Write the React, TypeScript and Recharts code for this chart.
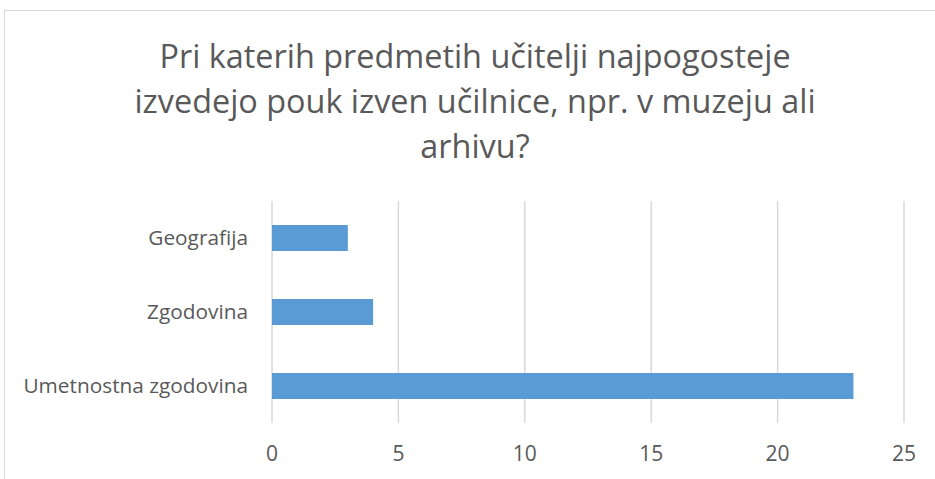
import React from "react"
import { BarChart, Bar, XAxis, YAxis, CartesianGrid } from "recharts"

const titleLines = [
  "Pri katerih predmetih učitelji najpogosteje",
  "izvedejo pouk izven učilnice, npr. v muzeju ali",
  "arhivu?",
]
const subjects = ["Geografija", "Zgodovina", "Umetnostna zgodovina"]
const counts = [3, 4, 23]
const xTicks = [0, 5, 10, 15, 20, 25]

const data = subjects.map((name, i) => ({ name, value: counts[i] }))

const font = "'Open Sans', sans-serif"
const textColor = "#595959"

export default function App() {
  return (
    <div style={{ position: "absolute", left: 0, top: 0, width: 935, height: 479, background: "#fff", overflow: "hidden", fontFamily: font }}>
      <div style={{ position: "absolute", left: 4, top: 10, width: 940, height: 480, border: "1px solid #d9d9d9", boxSizing: "border-box" }} />
      {titleLines.map((line, i) => (
        <div
          key={i}
          style={{
            position: "absolute",
            left: 0,
            width: 950,
            top: 37 + i * 45,
            textAlign: "center",
            fontSize: 32.4,
            lineHeight: "36px",
            color: textColor,
            whiteSpace: "nowrap",
          }}
        >
          {line}
        </div>
      ))}
      <div style={{ position: "absolute", left: 0, top: 0 }}>
        <BarChart
          width={935}
          height={479}
          data={data}
          layout="vertical"
          margin={{ top: 201, right: 31, bottom: 26, left: 10 }}
        >
          <CartesianGrid horizontal={false} stroke="#d9d9d9" strokeWidth={1.5} />
          <XAxis
            type="number"
            domain={[0, 25]}
            ticks={xTicks}
            axisLine={false}
            tickLine={false}
            tickMargin={17}
            height={30}
            tick={{ fontSize: 21, fill: textColor, fontFamily: font }}
          />
          <YAxis
            type="category"
            dataKey="name"
            width={262}
            axisLine={false}
            tickLine={false}
            tickMargin={18}
            tick={{ fontSize: 20.8, fill: textColor, fontFamily: font }}
          />
          <Bar dataKey="value" fill="#5b9bd5" barSize={26} isAnimationActive={false} />
        </BarChart>
      </div>
    </div>
  )
}
